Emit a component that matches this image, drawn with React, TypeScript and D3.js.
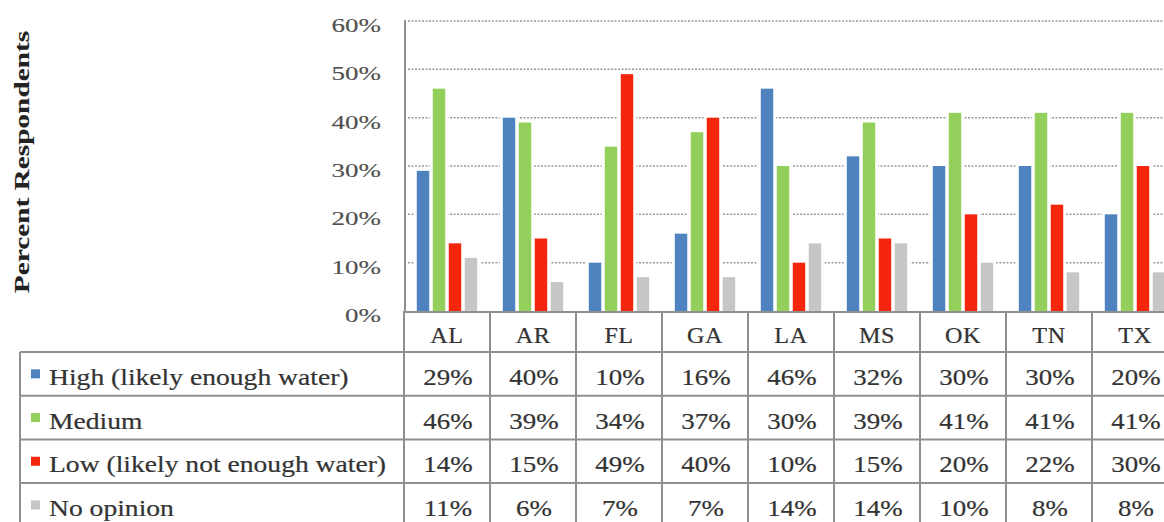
import React from "react";
import * as d3 from "d3";

const categories = ["AL", "AR", "FL", "GA", "LA", "MS", "OK", "TN", "TX"];
const seriesNames = [
  "High (likely enough water)",
  "Medium",
  "Low (likely not enough water)",
  "No opinion",
];
const high = [29, 40, 10, 16, 46, 32, 30, 30, 20];
const medium = [46, 39, 34, 37, 30, 39, 41, 41, 41];
const low = [14, 15, 49, 40, 10, 15, 20, 22, 30];
const noOpinion = [11, 6, 7, 7, 14, 14, 10, 8, 8];
const seriesColors = ["#4F83C0", "#93CF5B", "#F5260E", "#C6C6C6"];
const yTicks = [0, 10, 20, 30, 40, 50, 60];
const yTitle = "Percent Respondents";

const seriesValues = [high, medium, low, noOpinion];

const W = 1164;
const H = 522;
const FONT = "'Liberation Serif', 'Times New Roman', serif";

function SText({ x, y, sx = 1, anchor = "start", size = 22, fill = "#333", weight = "normal", rotate = 0, ls = 0, sw = 0.2, children }: any) {
  return (
    <text
      transform={`translate(${x},${y}) rotate(${rotate}) scale(${sx},1)`}
      textAnchor={anchor}
      fontFamily={FONT}
      fontSize={size}
      fontWeight={weight}
      fill={fill}
      stroke={fill}
      strokeWidth={sw}
      letterSpacing={ls}
    >
      {children}
    </text>
  );
}

export default function App() {
  const plotLeft = 404;
  const colW = 86;
  const plotTop = 21;
  const plotBottom = 311;
  const headerBottom = 352;
  const rowH = 43.7;
  const tableLeft = 20;

  const x0 = d3
    .scaleBand<string>()
    .domain(categories)
    .range([plotLeft, plotLeft + colW * categories.length])
    .paddingInner(0)
    .paddingOuter(0);
  const x1 = d3
    .scaleBand<string>()
    .domain(seriesNames)
    .range([0, x0.bandwidth()])
    .paddingInner(0.22)
    .paddingOuter(0.8);
  const y = d3.scaleLinear().domain([0, 60]).range([plotBottom, plotTop]);
  const rowY = d3
    .scaleBand<string>()
    .domain(seriesNames)
    .range([headerBottom, headerBottom + rowH * seriesNames.length]);

  const lineColor = "#8f8f8f";
  const bars: any[] = [];
  seriesNames.forEach((s, si) => {
    categories.forEach((c, ci) => {
      const v = seriesValues[si][ci];
      bars.push({ s, si, c, v, x: (x0(c) as number) + (x1(s) as number), y: y(v), w: x1.bandwidth(), h: plotBottom - y(v) });
    });
  });

  return (
    <svg width={W} height={H} style={{ position: "absolute", left: 0, top: 0, background: "#fff" }}>
      <rect x={0} y={0} width={W} height={H} fill="#fff" />
      {/* gridlines */}
      {yTicks.filter((t) => t > 0).map((t) => (
        <line key={t} x1={plotLeft + 4} x2={W} y1={y(t)} y2={y(t)} stroke="#9a9a9a" strokeWidth={1.5} strokeDasharray="2,1.5" />
      ))}
      {/* bar halos */}
      {bars.map((b, i) => (
        <rect key={"h" + i} x={b.x - 3} y={b.y - 3} width={b.w + 6} height={b.h + 3} fill="#fff" />
      ))}
      {/* bars */}
      {bars.map((b, i) => (
        <rect key={"b" + i} x={b.x} y={b.y} width={b.w} height={b.h} fill={seriesColors[b.si]} />
      ))}
      {/* y axis */}
      <line x1={plotLeft + 1} x2={plotLeft + 1} y1={plotTop - 1} y2={plotBottom} stroke={lineColor} strokeWidth={2} />
      {yTicks.map((t) => (
        <SText key={t} x={381} y={y(t) + 11} sx={1.42} anchor="end" size={19} fill="#505050" sw={0.15}>
          {`${t}%`}
        </SText>
      ))}
      <SText x={29} y={162} sx={1.43} anchor="middle" size={20.5} weight="bold" fill="#222" rotate={-90} sw={0.1}>
        {yTitle}
      </SText>

      {/* table lines */}
      <line x1={plotLeft} x2={W} y1={plotBottom + 1} y2={plotBottom + 1} stroke={lineColor} strokeWidth={2} />
      {categories.map((c) => (
        <line key={"v" + c} x1={x0(c) as number} x2={x0(c) as number} y1={plotBottom} y2={H} stroke={lineColor} strokeWidth={2} />
      ))}
      <line x1={tableLeft} x2={tableLeft} y1={headerBottom} y2={H} stroke={lineColor} strokeWidth={2} />
      {seriesNames.map((s) => (
        <line key={"r" + s} x1={tableLeft} x2={W} y1={rowY(s) as number} y2={rowY(s) as number} stroke={lineColor} strokeWidth={2} />
      ))}
      {/* header labels */}
      {categories.map((c) => (
        <SText key={"hl" + c} x={(x0(c) as number) + colW / 2} y={343} sx={1.05} anchor="middle" size={23} fill="#333" ls={0.5}>
          {c}
        </SText>
      ))}
      {/* legend column */}
      {seriesNames.map((s, si) => {
        const ry = rowY(s) as number;
        return (
          <g key={"lg" + s}>
            <rect x={31} y={ry + rowH / 2 - 4.5} width={9} height={9} fill={seriesColors[si]} />
            <SText x={49} y={ry + 33} sx={1.2} size={23} fill="#333">
              {s}
            </SText>
          </g>
        );
      })}
      {/* cells */}
      {seriesNames.map((s, si) =>
        categories.map((c, ci) => (
          <SText key={"c" + si + c} x={(x0(c) as number) + colW / 2 + 1} y={(rowY(s) as number) + 33} sx={1.17} anchor="middle" size={23} fill="#333">
            {`${seriesValues[si][ci]}%`}
          </SText>
        ))
      )}
    </svg>
  );
}
